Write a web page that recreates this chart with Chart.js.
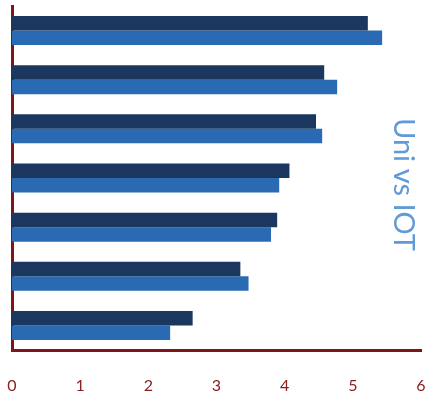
<!DOCTYPE html>
<html>
<head>
<meta charset="utf-8">
<script src="https://cdn.jsdelivr.net/npm/chart.js@4"></script>
<style>
  html, body { margin: 0; padding: 0; background: #ffffff; }
  #wrap { position: relative; width: 425px; height: 396px; }
  #title {
    position: absolute;
    left: 391px; top: 118px;
    writing-mode: vertical-rl;
    font-family: Lato, "Open Sans", sans-serif;
    font-size: 29px;
    color: #5f9bd6;
    line-height: 1;
    white-space: nowrap;
  }
</style>
</head>
<body>
<div id="wrap">
  <canvas id="c" width="425" height="396"></canvas>
  <div id="title">Uni vs IOT</div>
</div>
<script>
const categories = ["1", "2", "3", "4", "5", "6", "7"];
const uniValues = [5.22, 4.58, 4.46, 4.07, 3.89, 3.35, 2.65];
const iotValues = [5.43, 4.77, 4.55, 3.92, 3.80, 3.47, 2.32];
const xTicks = [0, 1, 2, 3, 4, 5, 6];

const axisRed = "#7f1517";

new Chart(document.getElementById("c"), {
  type: "bar",
  data: {
    labels: categories,
    datasets: [
      { label: "Uni", data: uniValues, backgroundColor: "#1b365f", categoryPercentage: 0.59, barPercentage: 1.0 },
      { label: "IOT", data: iotValues, backgroundColor: "#2a6ab3", categoryPercentage: 0.59, barPercentage: 1.0 }
    ]
  },
  options: {
    indexAxis: "y",
    responsive: false,
    maintainAspectRatio: false,
    animation: false,
    layout: { padding: { left: 10, right: 4, top: 6, bottom: 0 } },
    plugins: { legend: { display: false }, tooltip: { enabled: false }, title: { display: false } },
    scales: {
      x: {
        min: 0, max: 6,
        afterBuildTicks: (scale) => { scale.ticks = xTicks.map(v => ({ value: v })); },
        afterFit: (scale) => { scale.height = 46; scale.paddingLeft = 0; scale.paddingRight = 0; },
        grid: { display: false },
        border: { display: true, color: axisRed, width: 3 },
        ticks: { color: "#862222", padding: 18, maxRotation: 0, font: { family: "Lato", size: 16 } }
      },
      y: {
        afterFit: (scale) => { scale.width = 2; },
        grid: { display: false },
        border: { display: true, color: axisRed, width: 3 },
        ticks: { display: false }
      }
    }
  }
});
</script>
</body>
</html>
